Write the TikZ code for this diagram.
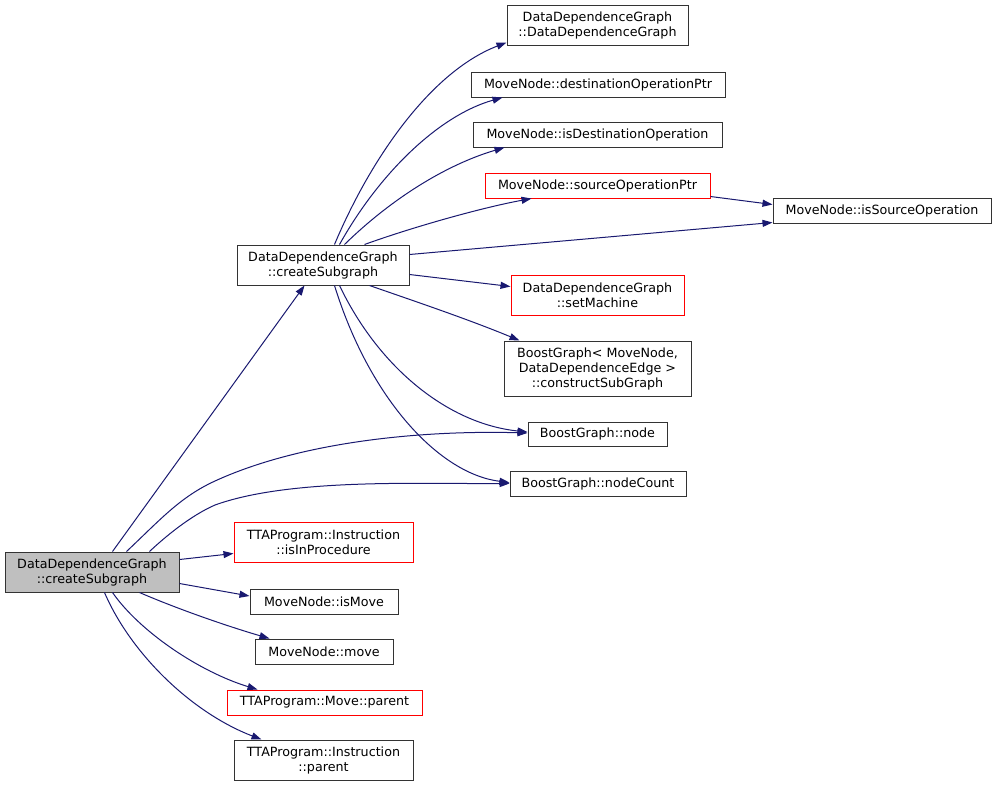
\documentclass[tikz,border=0pt]{standalone}
\usepackage{fontspec}
\setmainfont{DejaVu Sans}
\usetikzlibrary{arrows.meta,calc}
\definecolor{edgeblue}{HTML}{191970}
\definecolor{nodegray}{HTML}{BFBFBF}
\definecolor{nodeborder}{HTML}{333333}
\tikzset{
  box/.style={draw=nodeborder, line width=1pt, inner sep=0pt, align=center, font=\fontsize{12.7}{15}\selectfont},
  redbox/.style={box, draw=red},
  rootbox/.style={box, fill=nodegray},
  edge/.style={draw=edgeblue, line width=1pt, -{Triangle[length=10pt,width=7pt]}},
}
\begin{document}
\begin{tikzpicture}[x=1pt,y=-1pt]
\useasboundingbox[fill=white] (0,0) rectangle (997,788);
% nodes
\node[rootbox, minimum width=174pt, minimum height=40pt] (root) at (92,572) {DataDependenceGraph\\::createSubgraph};
\node[box, minimum width=172pt, minimum height=40pt] (cs) at (323,265) {DataDependenceGraph\\::createSubgraph};
\node[box, minimum width=181pt, minimum height=40pt] (ddg) at (597.5,25) {DataDependenceGraph\\::DataDependenceGraph};
\node[box, minimum width=254pt, minimum height=25pt] (dop) at (598,84.5) {MoveNode::destinationOperationPtr};
\node[box, minimum width=249pt, minimum height=25pt] (ido) at (597.5,134.5) {MoveNode::isDestinationOperation};
\node[redbox, minimum width=225pt, minimum height=25pt] (sop) at (597.5,185.5) {MoveNode::sourceOperationPtr};
\node[box, minimum width=218pt, minimum height=25pt] (iso) at (882,210.5) {MoveNode::isSourceOperation};
\node[redbox, minimum width=173pt, minimum height=40pt] (sm) at (597.5,295) {DataDependenceGraph\\::setMachine};
\node[box, minimum width=187pt, minimum height=55pt] (csg) at (597.5,368.5) {BoostGraph< MoveNode,\\DataDependenceEdge >\\::constructSubGraph};
\node[box, minimum width=139pt, minimum height=24pt] (nd) at (597.5,434) {BoostGraph::node};
\node[box, minimum width=176pt, minimum height=25pt] (nc) at (598,483.5) {BoostGraph::nodeCount};
\node[redbox, minimum width=179pt, minimum height=40pt] (iip) at (323.5,542) {TTAProgram::Instruction\\::isInProcedure};
\node[box, minimum width=148pt, minimum height=25pt] (im) at (324,601.5) {MoveNode::isMove};
\node[box, minimum width=138pt, minimum height=25pt] (mv) at (324,651.5) {MoveNode::move};
\node[redbox, minimum width=195pt, minimum height=25pt] (mp) at (324.5,702.5) {TTAProgram::Move::parent};
\node[box, minimum width=179pt, minimum height=40pt] (ip) at (323.5,760) {TTAProgram::Instruction\\::parent};
% edges from root
\draw[edge] ($(root.north west)+(108,0)$) -- ($(cs.south west)+(68,0)$);
\draw[edge] ($(root.north west)+(122,0)$) .. controls (160,520) and (180,497) .. (215,481) .. controls (300,442) and (420,430) .. ($(nd.west)+(0,-1)$);
\draw[edge] ($(root.north west)+(145,0)$) .. controls (165,537) and (190,516) .. (215,505) .. controls (290,478) and (420,484) .. (nc.west);
\draw[edge] ($(root.north east)+(0,8)$) -- ($(iip.south west)+(0,-9)$);
\draw[edge] ($(root.north east)+(0,32)$) -- ($(im.west)+(0,-5.5)$);
\draw[edge] ($(root.south west)+(135,0)$) .. controls (180,610) and (230,627) .. ($(mv.north west)+(15,0)$);
\draw[edge] ($(root.south west)+(108,0)$) .. controls (140,632) and (200,672) .. ($(mp.north west)+(31,0)$);
\draw[edge] ($(root.south west)+(100,0)$) .. controls (130,652) and (190,712) .. ($(ip.north west)+(28,0)$);
% edges from createSubgraph
\draw[edge] ($(cs.north west)+(98,0)$) .. controls (370,160) and (430,72) .. ($(ddg.south west)+(0,-3)$);
\draw[edge] ($(cs.north west)+(103,0)$) .. controls (380,172) and (440,115) .. ($(dop.south west)+(32,0)$);
\draw[edge] ($(cs.north west)+(108,0)$) .. controls (390,200) and (445,165) .. ($(ido.south west)+(32,0)$);
\draw[edge] ($(cs.north west)+(128,0)$) .. controls (410,228) and (480,208) .. ($(sop.south west)+(47,0)$);
\draw[edge] ($(cs.north east)+(0,10)$) -- ($(iso.south west)+(0,-1)$);
\draw[edge] ($(cs.north east)+(0,30)$) -- ($(sm.north west)+(0,12)$);
\draw[edge] ($(cs.south west)+(133,0)$) .. controls (420,303) and (470,320) .. ($(csg.north west)+(16,0)$);
\draw[edge] ($(cs.south west)+(103,0)$) .. controls (380,370) and (450,424) .. ($(nd.west)+(0,-2)$);
\draw[edge] ($(cs.south west)+(98,0)$) .. controls (370,400) and (440,474) .. ($(nc.west)+(0,-1)$);
\draw[edge] ($(sop.south east)+(0,-2)$) -- ($(iso.north west)+(0,7)$);
\end{tikzpicture}
\end{document}
